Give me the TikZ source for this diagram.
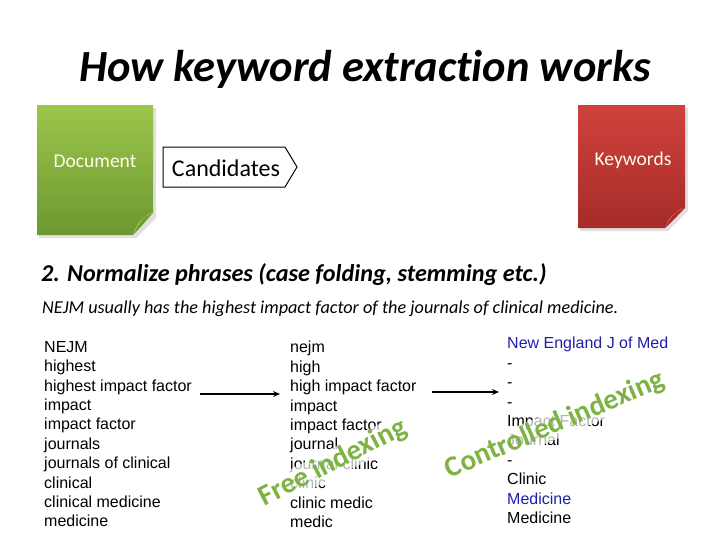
\documentclass[tikz,border=0pt]{standalone}
\usepackage{fontspec}
\usetikzlibrary{arrows.meta}
\setmainfont[Ligatures=NoCommon]{Carlito}
\newfontfamily\arialf{Liberation Sans}
\definecolor{docgreenA}{HTML}{9CC64C}
\definecolor{docgreenB}{HTML}{6C9830}
\definecolor{kwredA}{HTML}{D0413D}
\definecolor{kwredB}{HTML}{A52C28}
\definecolor{wmgreen}{HTML}{7CB342}
\definecolor{nblue}{HTML}{1F1FA8}
\begin{document}
\begin{tikzpicture}[x=1pt,y=-1pt,
  title/.style={font=\fontsize{44.5}{46}\selectfont\bfseries\itshape, anchor=center},
  boxlabel/.style={font=\fontsize{19.5}{21}\selectfont, text=white!90!yellow},
  listcol/.style={font=\arialf\fontsize{16}{19.4}\selectfont, anchor=north west, align=left, inner sep=0pt},
  watermark/.style={font=\fontsize{29}{31}\selectfont\bfseries, text=wmgreen},
  flow/.style={-{Stealth[length=7pt,width=6pt]}, line width=1.5pt}]
\useasboundingbox (0,0) rectangle (728,546);
% title
\node[title] (title) at (365,69) {How keyword extraction works};
% Document sheet
\fill[black!12] (39,108) -- (156,108) -- (156,218) -- (136,238) -- (39,238) -- cycle;
\shade[top color=docgreenA, bottom color=docgreenB] (37,105) -- (153,105) -- (153,213) .. controls (145,222) and (140,228) .. (133,235) -- (37,235) -- cycle;
\fill[docgreenA!80!white] (153,213) .. controls (146,214) and (140,220) .. (133,235) .. controls (136,226) and (140,220) .. (146,216) -- cycle;
\node[boxlabel] (doc) at (95,161) {Document};
% Candidates arrow box
\draw[line width=1pt, fill=white] (163,147) -- (285,147) -- (297,167) -- (285,187) -- (163,187) -- cycle;
\node[font=\fontsize{24}{26}\selectfont] (cand) at (226,168) {Candidates};
% Keywords sheet
\fill[black!12] (580,108) -- (688,108) -- (688,211) -- (668,231) -- (580,231) -- cycle;
\shade[top color=kwredA, bottom color=kwredB] (578,105) -- (685,105) -- (685,208) .. controls (677,216) and (672,222) .. (665,228) -- (578,228) -- cycle;
\fill[kwredA!75!white] (685,208) .. controls (678,209) and (672,214) .. (665,228) .. controls (668,220) and (672,214) .. (678,211) -- cycle;
\node[boxlabel] (kw) at (633,160) {Keywords};
% step heading
\node[font=\fontsize{24.2}{26}\selectfont\bfseries\itshape, anchor=west, inner sep=0pt] (step) at (41,275) {2. Normalize phrases (case folding, stemming etc.)};
\node[font=\fontsize{18.2}{20}\selectfont\itshape, anchor=west, inner sep=0pt] (sent) at (42,309) {NEJM usually has the highest impact factor of the journals of clinical medicine.};
% lists
\node[listcol] (c1) at (44,341) {NEJM\\highest\\highest impact factor\\impact\\impact factor\\journals\\journals of clinical\\clinical\\clinical medicine\\medicine};
\node[listcol] (c2) at (290,341) {nejm\\high\\high impact factor\\impact\\impact factor\\journal\\journal clinic\\clinic\\clinic medic\\medic};
\node[listcol] (c3) at (507,337) {\textcolor{nblue}{New England J of Med}\\-\\-\\-\\Impact Factor\\Journal\\-\\Clinic\\\textcolor{nblue}{Medicine}\\Medicine};
\coordinate (a1s) at (200,394);
\coordinate (a1e) at (280,394);
\coordinate (a2s) at (432,392);
\coordinate (a2e) at (499,392);
\draw[flow] (a1s) -- (a1e);
\draw[flow] (a2s) -- (a2e);
% watermarks
\node[watermark, rotate=27, fill=white, fill opacity=0.7, text opacity=1, inner sep=1pt] (free) at (333,463) {Free indexing};
\node[watermark, rotate=23, fill=white, fill opacity=0.7, text opacity=1, inner sep=1pt] (ctrl) at (555,425) {Controlled indexing};
\end{tikzpicture}
\end{document}
